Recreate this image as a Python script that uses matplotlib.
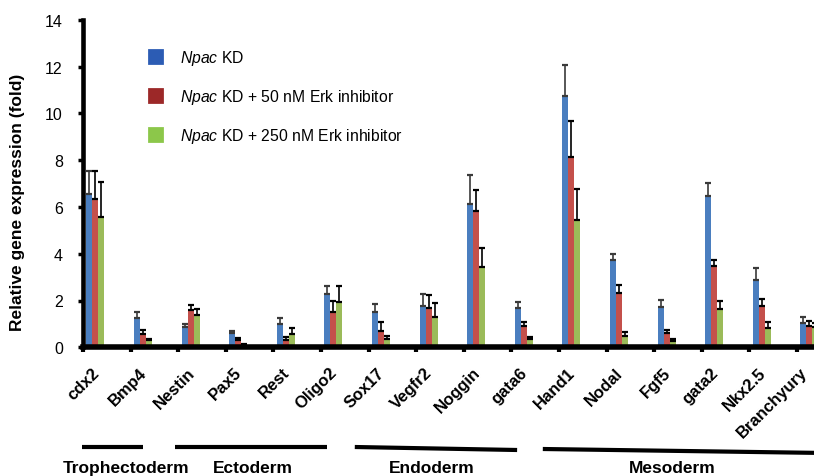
import numpy as np
import matplotlib
matplotlib.use("Agg")
import matplotlib.pyplot as plt
from matplotlib.patches import Patch
from matplotlib.lines import Line2D
import matplotlib.transforms as mtransforms

plt.rcParams['font.family'] = ['Liberation Sans', 'DejaVu Sans']
plt.rcParams['mathtext.fontset'] = 'custom'
plt.rcParams['mathtext.it'] = 'Liberation Sans:italic'
plt.rcParams['mathtext.rm'] = 'Liberation Sans'

genes = ["cdx2", "Bmp4", "Nestin", "Pax5", "Rest", "Oligo2", "Sox17", "Vegfr2",
         "Noggin", "gata6", "Hand1", "Nodal", "Fgf5", "gata2", "Nkx2.5", "Branchyury"]

kd = [6.55, 1.25, 0.88, 0.61, 1.00, 2.28, 1.50, 1.78, 6.12, 1.67, 10.75, 3.74, 1.73, 6.48, 2.86, 1.05]
kd_err = [1.00, 0.25, 0.12, 0.10, 0.24, 0.32, 0.35, 0.51, 1.23, 0.27, 1.31, 0.23, 0.30, 0.53, 0.52, 0.26]

erk50 = [6.34, 0.57, 1.60, 0.33, 0.33, 1.52, 0.71, 1.68, 5.82, 0.92, 8.15, 2.32, 0.62, 3.49, 1.76, 0.92]
erk50_err = [1.21, 0.17, 0.21, 0.05, 0.10, 0.47, 0.36, 0.57, 0.92, 0.15, 1.52, 0.36, 0.12, 0.25, 0.32, 0.22]

erk250 = [5.56, 0.31, 1.38, 0.11, 0.56, 1.92, 0.35, 1.28, 3.43, 0.35, 5.44, 0.48, 0.27, 1.64, 0.81, 0.85]
erk250_err = [1.52, 0.05, 0.26, 0.03, 0.26, 0.71, 0.15, 0.61, 0.83, 0.10, 1.31, 0.19, 0.10, 0.34, 0.28, 0.20]

series_labels = [r"$\mathit{Npac}$ KD",
                 r"$\mathit{Npac}$ KD + 50 nM Erk inhibitor",
                 r"$\mathit{Npac}$ KD + 250 nM Erk inhibitor"]

groups = ["Trophectoderm", "Ectoderm", "Endoderm", "Mesoderm"]

yticks = [0, 2, 4, 6, 8, 10, 12, 14]

bar_colors = ["#4A7EBF", "#C4504B", "#9BBB59"]
legend_colors = ["#2C5CB4", "#9C2828", "#8CC74A"]
err_colors = ["#3a3a3a", "black", "black"]

fig = plt.figure(figsize=(8.14, 4.77), dpi=100)
ax = fig.add_axes([83 / 814, (477 - 348.3) / 477, 1 - 83 / 814, (348.3 - 20.7) / 477])

n = len(genes)
x = np.arange(n)
width = 0.126
offset0 = 0.07
data = [(kd, kd_err), (erk50, erk50_err), (erk250, erk250_err)]
for k, (vals, errs) in enumerate(data):
    pos = x + offset0 + width * (k + 0.5)
    ax.bar(pos, vals, width=width, color=bar_colors[k], edgecolor='none', zorder=2)
    ax.errorbar(pos, vals, yerr=[np.zeros(n), errs], fmt='none', ecolor=err_colors[k],
                elinewidth=1.2, capsize=2.5, capthick=1.6, zorder=3)

ax.set_yticks(yticks)
ax.set_yticklabels([str(v) for v in yticks])

for s in ['top', 'right']:
    ax.spines[s].set_visible(False)
ax.spines['left'].set_linewidth(3.3)
ax.spines['bottom'].set_linewidth(4)
ax.spines['left'].set_zorder(4)
ax.spines['bottom'].set_zorder(4)

ax.tick_params(axis='y', direction='out', length=3.5, width=2.5, pad=11, labelsize=11.5)
ax.set_xticks(np.arange(0, n + 1))
ax.set_xticklabels([])
ax.tick_params(axis='x', which='major', direction='out', length=3.5, width=3)

# limits set after ticks so the tick list does not widen the view
ax.set_xlim(0, (814 - 83) / 47.6)
ax.set_ylim(0, 14)

# category labels (drawn as texts so the clipped last category keeps its label)
for i, g in enumerate(genes):
    dx = -10 if i < n - 1 else -16
    lt = mtransforms.blended_transform_factory(ax.transData, ax.transAxes) + \
        mtransforms.ScaledTranslation(dx / 100, -22.5 / 100, fig.dpi_scale_trans)
    ax.text(i + 0.5, 0, g, transform=lt, rotation=45, ha='right', va='center',
            rotation_mode='anchor', fontsize=12, fontweight='bold', clip_on=False)

fig.text(18 / 814, (477 - 202) / 477, "Relative gene expression (fold)", rotation=90,
         ha='center', va='center', fontsize=12.5, fontweight='bold')

handles = [Patch(facecolor=c, edgecolor=c, linewidth=2, joinstyle='round') for c in legend_colors]
ax.legend(handles, series_labels, loc='upper left', bbox_to_anchor=(149 / 814, (477 - 49) / 477),
          bbox_transform=fig.transFigure, frameon=False, borderpad=0, borderaxespad=0,
          handlelength=0.85, handleheight=0.85, handletextpad=1.15, labelspacing=1.28,
          fontsize=11.3)

# group annotation lines and labels
bt = mtransforms.blended_transform_factory(ax.transData, fig.transFigure)
line_coords = [((-0.02, 1.26), (448, 448)), ((1.93, 5.13), (448, 448)),
               ((5.71, 9.12), (448, 451)), ((9.66, 15.6), (450, 454))]
for (xs, ys) in line_coords:
    fig.add_artist(Line2D(xs, [(477 - ys[0]) / 477, (477 - ys[1]) / 477], transform=bt,
                          color='black', linewidth=3, solid_capstyle='butt'))
label_x = [0.91, 3.57, 7.33, 12.37]
for g, lx in zip(groups, label_x):
    fig.text(lx, (477 - 469) / 477, g, transform=bt, ha='center', va='center',
             fontsize=12.5, fontweight='bold')

fig.savefig("out.png", dpi=100)
